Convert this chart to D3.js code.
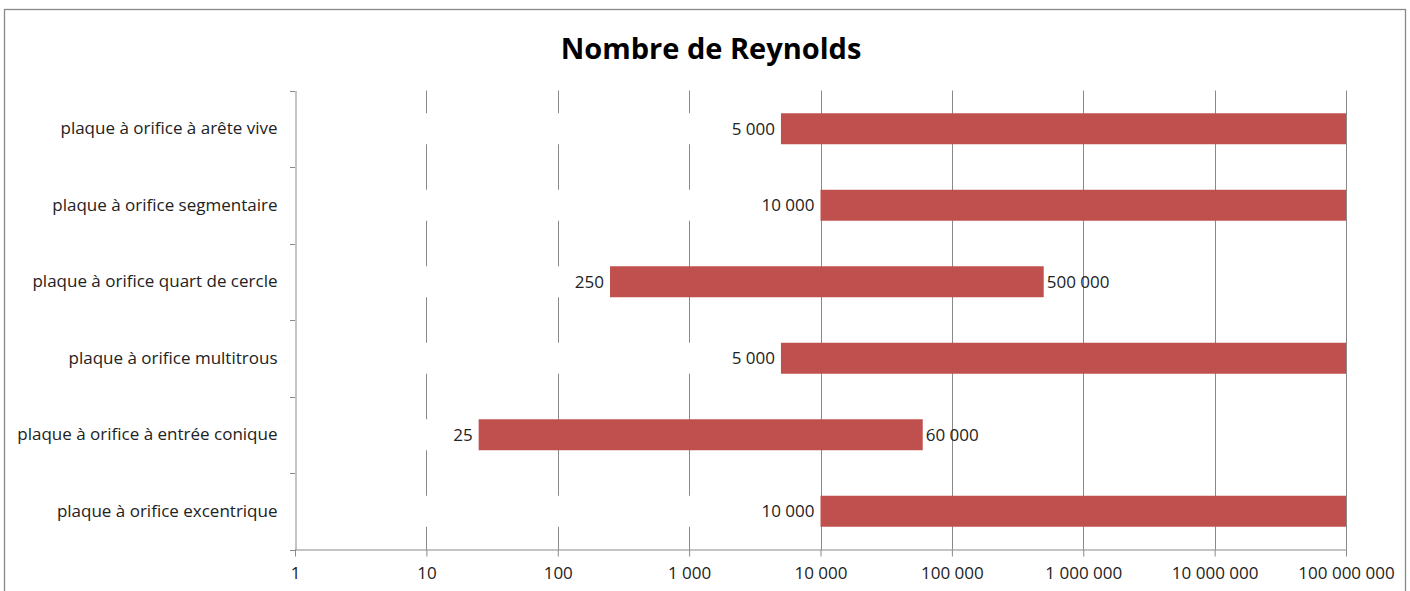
<!DOCTYPE html>
<html><head><meta charset="utf-8">
<script src="https://cdn.jsdelivr.net/npm/d3@7"></script>
<style>body{margin:0;background:#fff}svg{display:block;font-family:"Open Sans",sans-serif}</style>
</head><body><svg id="c" width="1410" height="591"></svg>
<script>
const categories = ["plaque à orifice à arête vive","plaque à orifice segmentaire","plaque à orifice quart de cercle","plaque à orifice multitrous","plaque à orifice à entrée conique","plaque à orifice excentrique"];
const minValues = [5000, 10000, 250, 5000, 25, 10000];
const maxValues = [100000000, 100000000, 500000, 100000000, 60000, 100000000];
const tickValues = [1,10,100,1000,10000,100000,1000000,10000000,100000000];
const title = "Nombre de Reynolds";

const svg = d3.select("#c");
const fmt = v => d3.format(",")(v).replace(/,/g, " ");
const gray = "#898989";
const txt = "#222";
const fs = 17;
const pLeft = 295, pRight = 1346, pTop = 90.5, pBottom = 549.5;

svg.append("rect").attr("x",4.5).attr("y",9.5).attr("width",1401).attr("height",600)
  .attr("fill","#fff").attr("stroke",gray).attr("stroke-width",1.3);

svg.append("text").attr("x",711).attr("y",59).attr("text-anchor","middle")
  .attr("font-size",29).attr("font-weight","bold").attr("fill","#000").text(title);

const x = d3.scaleLog().domain([1,1e8]).range([pLeft,pRight]);
const y = d3.scaleBand().domain(categories).range([pTop,pBottom]).paddingInner(0.595).paddingOuter(0.2975);

// gridlines
svg.append("g").selectAll("line").data(tickValues.slice(1)).join("line")
  .attr("x1",d=>Math.round(x(d))+0.5).attr("x2",d=>Math.round(x(d))+0.5)
  .attr("y1",pTop).attr("y2",pBottom).attr("stroke",gray).attr("stroke-width",1);

// invisible (white) base bars
svg.append("g").selectAll("rect").data(categories).join("rect")
  .attr("x",x(1)+1).attr("y",d=>y(d)).attr("height",y.bandwidth())
  .attr("width",(d,i)=>x(minValues[i])-x(1)-1).attr("fill","#fff");

// range bars
svg.append("g").selectAll("rect").data(categories).join("rect")
  .attr("x",(d,i)=>x(minValues[i])).attr("y",d=>y(d)).attr("height",y.bandwidth())
  .attr("width",(d,i)=>x(maxValues[i])-x(minValues[i])).attr("fill","#C0504D");

// min labels
svg.append("g").selectAll("text").data(categories).join("text")
  .attr("x",(d,i)=>x(minValues[i])-6).attr("y",d=>y(d)+y.bandwidth()/2+6)
  .attr("text-anchor","end").attr("font-size",fs).attr("fill",txt)
  .text((d,i)=>fmt(minValues[i]));

// max labels (inside domain)
svg.append("g").selectAll("text").data(categories.filter((d,i)=>maxValues[i]<1e8)).join("text")
  .attr("x",d=>x(maxValues[categories.indexOf(d)])+3).attr("y",d=>y(d)+y.bandwidth()/2+6)
  .attr("text-anchor","start").attr("font-size",fs).attr("fill",txt)
  .text(d=>fmt(maxValues[categories.indexOf(d)]));

// x axis
const xAxis = d3.axisBottom(x).tickValues(tickValues).tickFormat(fmt).tickSize(7).tickSizeOuter(0);
const gx = svg.append("g").attr("transform",`translate(0,${pBottom})`).call(xAxis);
gx.select(".domain").attr("stroke",gray);
gx.selectAll(".tick line").attr("stroke",gray);
gx.selectAll(".tick text").attr("font-size",fs).attr("fill",txt).attr("font-family","Open Sans").attr("dy","1.15em");

// y axis
const yAxis = d3.axisLeft(y).tickSize(0).tickPadding(18);
const gy = svg.append("g").attr("transform",`translate(${pLeft+0.5},0)`).call(yAxis);
gy.select(".domain").attr("stroke",gray);
gy.selectAll(".tick text").attr("font-size",fs).attr("fill",txt).attr("font-family","Open Sans");
// category boundary ticks
const bounds = d3.range(categories.length+1).map(i=>pTop + i*(pBottom-pTop)/categories.length);
svg.append("g").selectAll("line").data(bounds).join("line")
  .attr("x1",pLeft-5).attr("x2",pLeft).attr("y1",d=>Math.round(d)+0.5).attr("y2",d=>Math.round(d)+0.5)
  .attr("stroke",gray);
</script></body></html>
